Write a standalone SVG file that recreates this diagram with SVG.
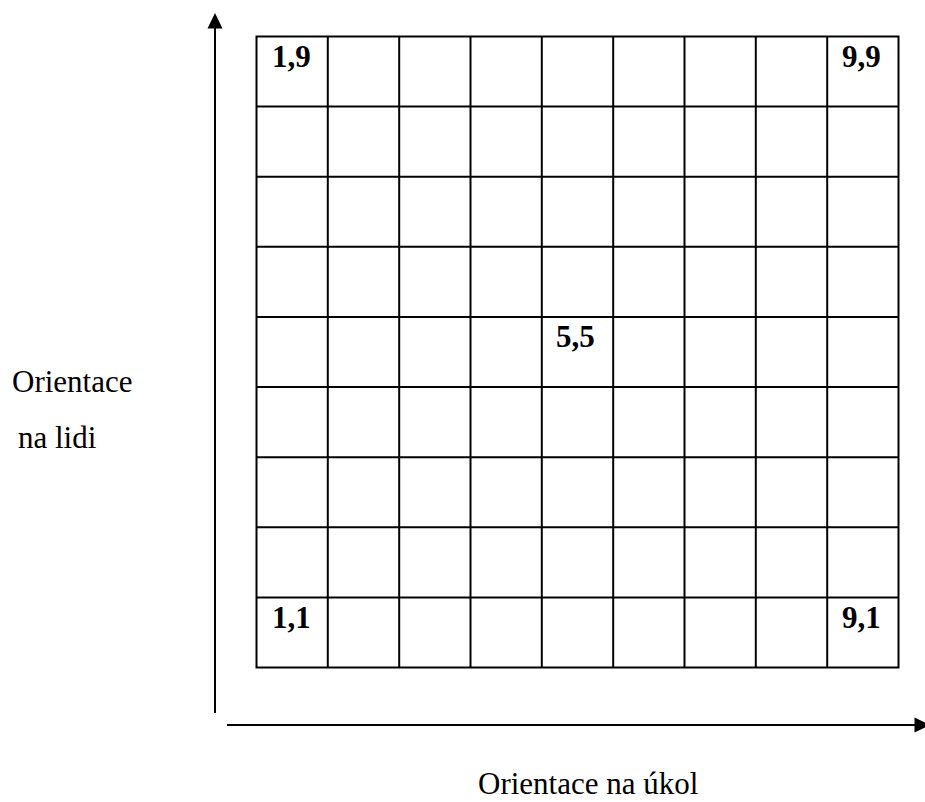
<svg xmlns="http://www.w3.org/2000/svg" width="925" height="802" viewBox="0 0 925 802">
<style>
.grid line, .grid rect { stroke: #000; stroke-width: 2; fill: none; }
.axis { stroke: #000; stroke-width: 2; fill: none; }
.head { fill: #000; stroke: none; }
.cell { font-family: "Liberation Serif", "Times New Roman", serif; font-weight: bold; font-size: 31px; fill: #000; }
.label { font-family: "Liberation Serif", "Times New Roman", serif; font-size: 31px; fill: #000; }
</style>
<rect width="925" height="802" fill="#fff"/>
<g id="grid" class="grid">
<rect x="256.5" y="36.5" width="642" height="631"/>
<line x1="327.8" y1="36.5" x2="327.8" y2="667.5"/>
<line x1="399.2" y1="36.5" x2="399.2" y2="667.5"/>
<line x1="470.5" y1="36.5" x2="470.5" y2="667.5"/>
<line x1="541.8" y1="36.5" x2="541.8" y2="667.5"/>
<line x1="613.2" y1="36.5" x2="613.2" y2="667.5"/>
<line x1="684.5" y1="36.5" x2="684.5" y2="667.5"/>
<line x1="755.8" y1="36.5" x2="755.8" y2="667.5"/>
<line x1="827.2" y1="36.5" x2="827.2" y2="667.5"/>
<line x1="256.5" y1="106.6" x2="898.5" y2="106.6"/>
<line x1="256.5" y1="176.7" x2="898.5" y2="176.7"/>
<line x1="256.5" y1="246.8" x2="898.5" y2="246.8"/>
<line x1="256.5" y1="316.9" x2="898.5" y2="316.9"/>
<line x1="256.5" y1="387.1" x2="898.5" y2="387.1"/>
<line x1="256.5" y1="457.2" x2="898.5" y2="457.2"/>
<line x1="256.5" y1="527.3" x2="898.5" y2="527.3"/>
<line x1="256.5" y1="597.4" x2="898.5" y2="597.4"/>
</g>
<g id="cell-1-9"><text class="cell" x="272" y="67">1,9</text></g>
<g id="cell-9-9"><text class="cell" x="842" y="67">9,9</text></g>
<g id="cell-5-5"><text class="cell" x="556" y="347">5,5</text></g>
<g id="cell-1-1"><text class="cell" x="272" y="628">1,1</text></g>
<g id="cell-9-1"><text class="cell" x="842" y="628">9,1</text></g>
<g id="label-y"><text class="label" x="12" y="392">Orientace</text><text class="label" x="18" y="448">na lidi</text></g>
<g id="label-x"><text class="label" x="478" y="794">Orientace na úkol</text></g>
<g id="connectors">
<line class="axis" x1="215" y1="713" x2="215" y2="26"/>
<polygon class="head" points="215,13 207.5,28.5 222.5,28.5"/>
<line class="axis" x1="227" y1="725" x2="917" y2="725"/>
<polygon class="head" points="930,725 914.5,717.5 914.5,732.5"/>
</g>
</svg>
